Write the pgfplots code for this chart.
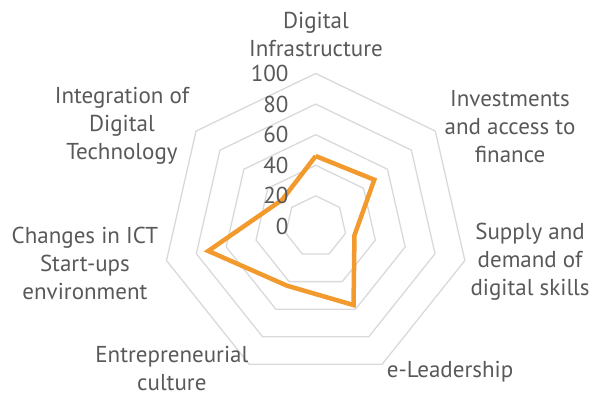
\documentclass[border=0pt]{standalone}
\usepackage{fontspec}
\setmainfont{PT Sans}
\usepackage{pgfplots}
\pgfplotsset{compat=1.18}
\definecolor{gridgray}{HTML}{D9D9D9}
\definecolor{txtgray}{HTML}{595959}
\definecolor{ecorange}{HTML}{F29A2E}
\tikzset{lbl/.style={font=\fontsize{23}{28}\selectfont, text=txtgray, align=center, inner sep=0pt}}
\pgfplotsset{ring/.style={gridgray, line width=1.3pt, data cs=polar}}

\begin{document}
\begin{tikzpicture}
\begin{axis}[
  x=1.53pt, y=1.53pt,
  xmin=-206.3, xmax=184.5, ymin=-111.4, ymax=148.0,
  axis line style={draw=none}, xtick=\empty, ytick=\empty,
  clip=false,
]
% heptagon grid, one ring per 20
\addplot[ring] coordinates {(90,20) (38.571,20) (-12.857,20) (-64.286,20) (-115.714,20) (-167.143,20) (141.429,20) (90,20)};
\addplot[ring] coordinates {(90,40) (38.571,40) (-12.857,40) (-64.286,40) (-115.714,40) (-167.143,40) (141.429,40) (90,40)};
\addplot[ring] coordinates {(90,60) (38.571,60) (-12.857,60) (-64.286,60) (-115.714,60) (-167.143,60) (141.429,60) (90,60)};
\addplot[ring] coordinates {(90,80) (38.571,80) (-12.857,80) (-64.286,80) (-115.714,80) (-167.143,80) (141.429,80) (90,80)};
\addplot[ring] coordinates {(90,100) (38.571,100) (-12.857,100) (-64.286,100) (-115.714,100) (-167.143,100) (141.429,100) (90,100)};

% scores
\addplot[ecorange, line width=4.5pt, data cs=polar] coordinates {
  (90,46) (38.571,49) (-12.857,26) (-64.286,57) (-115.714,43) (-167.143,72) (141.429,28) (90,46)};

% radial scale
\node[lbl, anchor=east, xshift=-27pt] at (axis cs:0,0) {0};
\node[lbl, anchor=east, xshift=-27pt] at (axis cs:0,20) {20};
\node[lbl, anchor=east, xshift=-27pt] at (axis cs:0,40) {40};
\node[lbl, anchor=east, xshift=-27pt] at (axis cs:0,60) {60};
\node[lbl, anchor=east, xshift=-27pt] at (axis cs:0,80) {80};
\node[lbl, anchor=east, xshift=-27pt] at (axis cs:0,100) {100};

% category labels
\node[lbl] at (axis cs:0.2,125.5) {Digital\\Infrastructure};
\node[lbl] at (axis cs:127,65) {Investments\\and access to\\finance};
\node[lbl] at (axis cs:140.1,-23.2) {Supply and\\demand of\\digital skills};
\node[lbl] at (axis cs:87.8,-95.1) {e-Leadership};
\node[lbl] at (axis cs:-94,-92.6) {Entrepreneurial\\culture};
\node[lbl] at (axis cs:-150.8,-23.9) {Changes in ICT\\Start-ups\\environment};
\node[lbl] at (axis cs:-126.6,65.7) {Integration of\\Digital\\Technology};
\end{axis}
\end{tikzpicture}
\end{document}
